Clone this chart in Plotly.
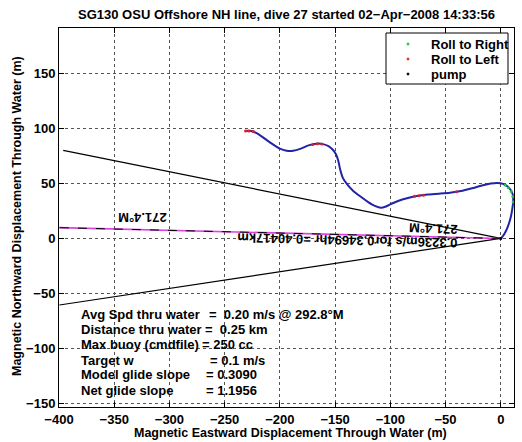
import math
import plotly.graph_objects as go

# ---- data ----
track_x = [-231.7, -226, -221, -215, -208, -200, -194, -188, -181, -174, -167, -161, -156, -152,
           -149, -147, -145.5, -143, -139, -134, -127, -120, -114, -108.5, -104, -99, -93, -85,
           -76, -66, -56, -46, -36, -26, -17, -9, -3, 2, 6, 9, 11, 11.3, 10.5, 9, 6.5, 3.5, 1, 0]
track_y = [97.5, 97.6, 95.5, 91.5, 86.5, 81.5, 79.6, 79.5, 81.5, 84.5, 86, 85.6, 83.8, 80.5,
           76, 70, 63, 55, 49, 43.5, 38, 33, 29.5, 27.8, 29, 31.5, 34, 36.5,
           38.5, 39.8, 40.6, 41.5, 43, 45.5, 48, 49.8, 50.3, 49.5, 47.3, 44, 39.5, 34, 27, 19, 11, 4.5, 1, 0]

roll_right_x = [4, 7, 9.5, 11, 11.2]
roll_right_y = [48.5, 46, 42.5, 38, 33]
roll_left_x = [-231, -228, -224, -170, -166, -162, -78, -74, -70, -40]
roll_left_y = [97.5, 97.6, 97, 85.3, 86, 85.6, 38.3, 38.8, 39.3, 42.4]
pump_x = [0]
pump_y = [0]

dist_km = 0.40417
heading_deg = 271.4
spread_deg = 10

x_ticks = [-400, -350, -300, -250, -200, -150, -100, -50, 0]
y_ticks = [-150, -100, -50, 0, 50, 100, 150]

title = "SG130 OSU Offshore NH line, dive 27 started 02\u2212Apr\u22122008 14:33:56"
NB = "\u00a0"
info_left = ["Avg Spd thru water", "Distance thru water", "Max buoy (cmdfile)",
             "Target w", "Model glide slope", "Net glide slope"]
info_right = ["=" + NB + NB + "0.20 m/s @ 292.8\u00b0M", "=" + NB + NB + "0.25 km", "= 250 cc",
              "= 0.1 m/s", "= 0.3090", "= 1.1956"]
info_eq_x = [-266, -269.7, -272.4, -265.2, -268.8, -268.8]
info_y = [-69, -82.7, -96.4, -110.5, -123.6, -137.7]

legend_names = ["Roll to Right", "Roll to Left", "pump"]
legend_colors = ["#20c040", "#e02020", "black"]

FONT = "Liberation Sans, Arial, Helvetica, sans-serif"


def endpoint(h):
    r = dist_km * 1000
    return [0, r * math.sin(math.radians(h))], [0, r * math.cos(math.radians(h))]


fig = go.Figure()

for h in (heading_deg + spread_deg, heading_deg - spread_deg):
    ex, ey = endpoint(h)
    fig.add_trace(go.Scatter(x=ex, y=ey, mode="lines", line=dict(color="black", width=1.2),
                             showlegend=False, hoverinfo="skip"))
cx, cy = endpoint(heading_deg)
fig.add_trace(go.Scatter(x=cx, y=cy, mode="lines", line=dict(color="#e040e0", width=1.6),
                         showlegend=False, hoverinfo="skip"))
fig.add_trace(go.Scatter(x=cx, y=cy, mode="lines", line=dict(color="black", width=1, dash="dash"),
                         showlegend=False, hoverinfo="skip"))

fig.add_trace(go.Scatter(x=track_x, y=track_y, mode="lines",
                         line=dict(color="#2323a8", width=2, shape="spline", smoothing=0.6),
                         showlegend=False, hoverinfo="skip"))

fig.add_trace(go.Scatter(x=roll_right_x, y=roll_right_y, mode="markers", name=legend_names[0],
                         marker=dict(color=legend_colors[0], size=3), showlegend=False))
fig.add_trace(go.Scatter(x=roll_left_x, y=roll_left_y, mode="markers", name=legend_names[1],
                         marker=dict(color=legend_colors[1], size=3), showlegend=False))
fig.add_trace(go.Scatter(x=pump_x, y=pump_y, mode="markers", name=legend_names[2],
                         marker=dict(color=legend_colors[2], size=3), showlegend=False))

bold = dict(family=FONT, size=13, color="black", weight="bold")
bold_ax = dict(family=FONT, size=12.5, color="black", weight="bold")

# plot-area pixel helpers for the hand-drawn legend box
L, R, T, B = 59, 514, 28, 407


def px(x):
    return (x - L) / (R - L)


def py(y):
    return (B - y) / (B - T)


shapes = [dict(type="rect", xref="paper", yref="paper", x0=px(386), x1=px(508), y0=py(84), y1=py(33),
               line=dict(color="black", width=1), fillcolor="white", layer="above")]

ann = []
for i, (nm, col) in enumerate(zip(legend_names, legend_colors)):
    yy = 44 + 15 * i
    shapes.append(dict(type="circle", xref="paper", yref="paper",
                       x0=px(407), x1=px(409), y0=py(yy + 1), y1=py(yy - 1),
                       line=dict(color=col, width=1), fillcolor=col, layer="above"))
    ann.append(dict(x=px(429), y=py(yy), xref="paper", yref="paper", text=nm, showarrow=False,
                    xanchor="left", yanchor="middle", font=bold))

ann.append(dict(x=-325, y=19, xref="x", yref="y", text="271.4\u00b0M", showarrow=False,
                textangle=180, font=bold))
ann.append(dict(x=-61.5, y=9, xref="x", yref="y", text="271.4\u00b0M", showarrow=False,
                textangle=182, font=bold))
ann.append(dict(x=-139, y=-1.8, xref="x", yref="y", text="0.3236m/s for0.34694hr =0.40417km",
                showarrow=False, textangle=181.4, font=bold))
for lt, rt, ex, yy in zip(info_left, info_right, info_eq_x, info_y):
    ann.append(dict(x=-382, y=yy, xref="x", yref="y", text=lt, showarrow=False,
                    xanchor="left", yanchor="middle", font=bold))
    ann.append(dict(x=ex, y=yy, xref="x", yref="y", text=rt, showarrow=False,
                    xanchor="left", yanchor="middle", font=bold))
ann.append(dict(x=px(290), y=py(433), xref="paper", yref="paper",
                text="Magnetic Eastward Displacement Through Water (m)", showarrow=False,
                xanchor="center", yanchor="middle", font=bold_ax))
ann.append(dict(x=px(17), y=py(216), xref="paper", yref="paper",
                text="Magnetic Northward Displacement Through Water (m)", showarrow=False,
                textangle=-90, xanchor="center", yanchor="middle", font=bold_ax))

axis_common = dict(showline=True, mirror="ticks", linecolor="black", linewidth=1,
                   ticks="inside", ticklen=5, tickcolor="black",
                   showgrid=True, gridcolor="#555555", griddash="dot", gridwidth=1,
                   zeroline=False, tickfont=bold)

fig.update_layout(
    width=522, height=442,
    margin=dict(l=L, r=522 - R, t=T, b=442 - B),
    paper_bgcolor="white", plot_bgcolor="white",
    title=dict(text=title, x=0.5, xref="paper", y=1 - 14 / 442, yref="container",
               xanchor="center", yanchor="middle", font=bold),
    xaxis=dict(range=[-400, 12], tickvals=x_ticks, **axis_common),
    yaxis=dict(range=[-153, 191], tickvals=y_ticks, **axis_common),
    annotations=ann,
    shapes=shapes,
    showlegend=False,
)

fig.write_html("out.html", config={"displayModeBar": False},
               post_script="document.body.style.margin='0px';")
